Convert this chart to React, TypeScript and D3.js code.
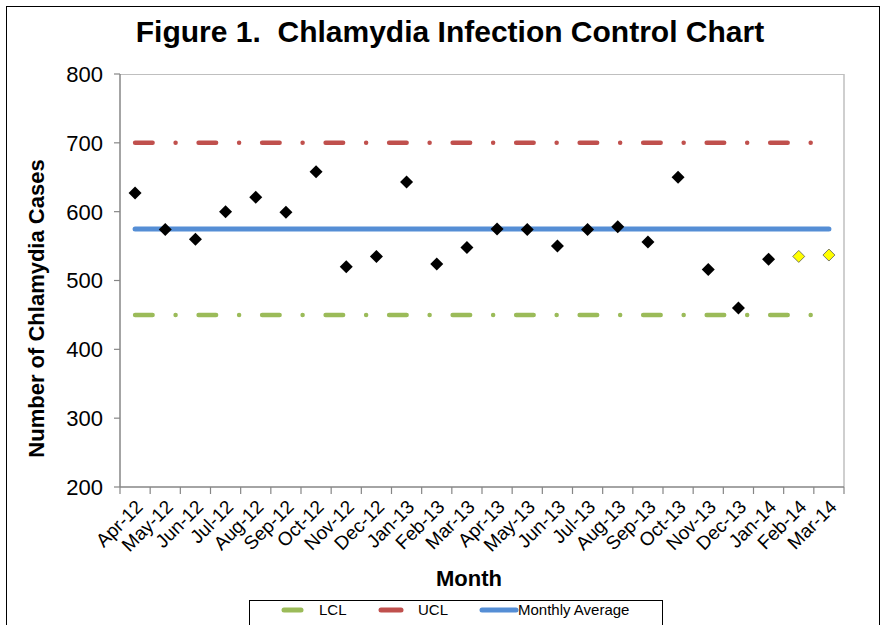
import * as d3 from 'd3';

const W = 887;
const H = 625;
const FONT = '"Liberation Sans", Arial, sans-serif';

const months = [
  'Apr-12', 'May-12', 'Jun-12', 'Jul-12', 'Aug-12', 'Sep-12', 'Oct-12', 'Nov-12',
  'Dec-12', 'Jan-13', 'Feb-13', 'Mar-13', 'Apr-13', 'May-13', 'Jun-13', 'Jul-13',
  'Aug-13', 'Sep-13', 'Oct-13', 'Nov-13', 'Dec-13', 'Jan-14', 'Feb-14', 'Mar-14',
];
// observed monthly counts (Apr-12 .. Jan-14)
const observedCases = [
  627, 574, 560, 600, 621, 599, 658, 520, 535, 643, 524, 548,
  575, 574, 550, 574, 578, 556, 650, 516, 460, 531,
];
// last two months drawn as yellow markers
const projectedMonths = ['Feb-14', 'Mar-14'];
const projectedCases = [535, 537];

const monthlyAverage = 575;
const ucl = 700;
const lcl = 450;
const yTicks = [200, 300, 400, 500, 600, 700, 800];

const plot = { left: 120, right: 844, top: 74, bottom: 487 };

const legendItems = [
  { label: 'LCL', color: '#9BBB59', x1: 284, x2: 301, tx: 319 },
  { label: 'UCL', color: '#C0504D', x1: 381, x2: 401, tx: 418 },
  { label: 'Monthly Average', color: '#558ED5', x1: 482, x2: 516, tx: 518 },
];

const diamond = (cx: number, cy: number, r: number) =>
  `M${cx},${cy - r}L${cx + r},${cy}L${cx},${cy + r}L${cx - r},${cy}Z`;

export default function App() {
  const x = d3.scaleBand<string>().domain(months).range([plot.left, plot.right]).padding(0);
  const y = d3.scaleLinear().domain([200, 800]).range([plot.bottom, plot.top]);
  const cx = (m: string) => (x(m) ?? 0) + x.bandwidth() / 2;

  const first = cx(months[0]);
  const last = cx(months[months.length - 1]);
  const dashDot = '17.5 23 0.01 23';

  const boundaries = months.map((m) => x(m) ?? 0).concat([plot.right]);

  return (
    <svg
      width={W}
      height={H}
      style={{ position: 'absolute', left: 0, top: 0, background: '#fff' }}
      fontFamily={FONT}
    >
      <rect x={6.5} y={6.5} width={873} height={640} fill="#fff" stroke="#000" strokeWidth={1} />

      <text x={450} y={42} textAnchor="middle" fontSize={30} fontWeight="bold" fill="#000"
        style={{ whiteSpace: 'pre' }}>
        {'Figure 1.  Chlamydia Infection Control Chart'}
      </text>

      {/* plot frame */}
      <line x1={plot.left} x2={plot.right} y1={plot.top + 0.5} y2={plot.top + 0.5} stroke="#BFBFBF" />
      <line x1={plot.right} x2={plot.right} y1={plot.top} y2={plot.bottom} stroke="#BFBFBF" strokeWidth={1.5} />

      {/* control limits and average */}
      <line x1={first} x2={last} y1={y(ucl)} y2={y(ucl)} stroke="#C0504D" strokeWidth={4.5}
        strokeLinecap="round" strokeDasharray={dashDot} />
      <line x1={first} x2={last} y1={y(lcl)} y2={y(lcl)} stroke="#9BBB59" strokeWidth={4.5}
        strokeLinecap="round" strokeDasharray={dashDot} />
      <line x1={first} x2={last} y1={y(monthlyAverage)} y2={y(monthlyAverage)} stroke="#558ED5"
        strokeWidth={5} strokeLinecap="round" />

      {observedCases.map((v, i) => (
        <path key={months[i]} d={diamond(cx(months[i]), y(v), 6.5)} fill="#000" />
      ))}
      {projectedCases.map((v, i) => (
        <path key={projectedMonths[i]} d={diamond(cx(projectedMonths[i]), y(v), 6)}
          fill="#FFFF00" stroke="#595959" strokeWidth={0.8} />
      ))}

      {/* y axis */}
      <line x1={plot.left} x2={plot.left} y1={plot.top} y2={plot.bottom} stroke="#868686" strokeWidth={1.5} />
      {yTicks.map((t) => (
        <g key={t}>
          <line x1={plot.left - 6} x2={plot.left} y1={y(t)} y2={y(t)} stroke="#868686" strokeWidth={1.2} />
          <text x={plot.left - 17} y={y(t)} dy="0.36em" textAnchor="end" fontSize={22} fill="#000">
            {t}
          </text>
        </g>
      ))}

      {/* x axis */}
      <line x1={plot.left} x2={plot.right} y1={plot.bottom} y2={plot.bottom} stroke="#868686" strokeWidth={1.5} />
      {boundaries.map((b, i) => (
        <line key={i} x1={b} x2={b} y1={plot.bottom} y2={plot.bottom + 7} stroke="#868686" strokeWidth={1.2} />
      ))}
      {months.map((m) => (
        <text key={m} transform={`translate(${cx(m) + 9},${plot.bottom + 21}) rotate(-45)`}
          textAnchor="end" fontSize={19} fill="#000">
          {m}
        </text>
      ))}

      <text x={469} y={586} textAnchor="middle" fontSize={22} fontWeight="bold" fill="#000">Month</text>
      <text transform={`translate(44,${(plot.top + plot.bottom) / 2 + 28}) rotate(-90)`}
        textAnchor="middle" fontSize={22} fontWeight="bold" fill="#000">
        Number of Chlamydia Cases
      </text>

      {/* legend */}
      <rect x={249.5} y={600.5} width={413} height={40} fill="#fff" stroke="#000" strokeWidth={1} />
      {legendItems.map((d) => (
        <g key={d.label}>
          <line x1={d.x1} x2={d.x2} y1={610} y2={610} stroke={d.color} strokeWidth={5} strokeLinecap="round" />
          <text x={d.tx} y={610} dy="0.36em" fontSize={15} fill="#000">{d.label}</text>
        </g>
      ))}
    </svg>
  );
}
